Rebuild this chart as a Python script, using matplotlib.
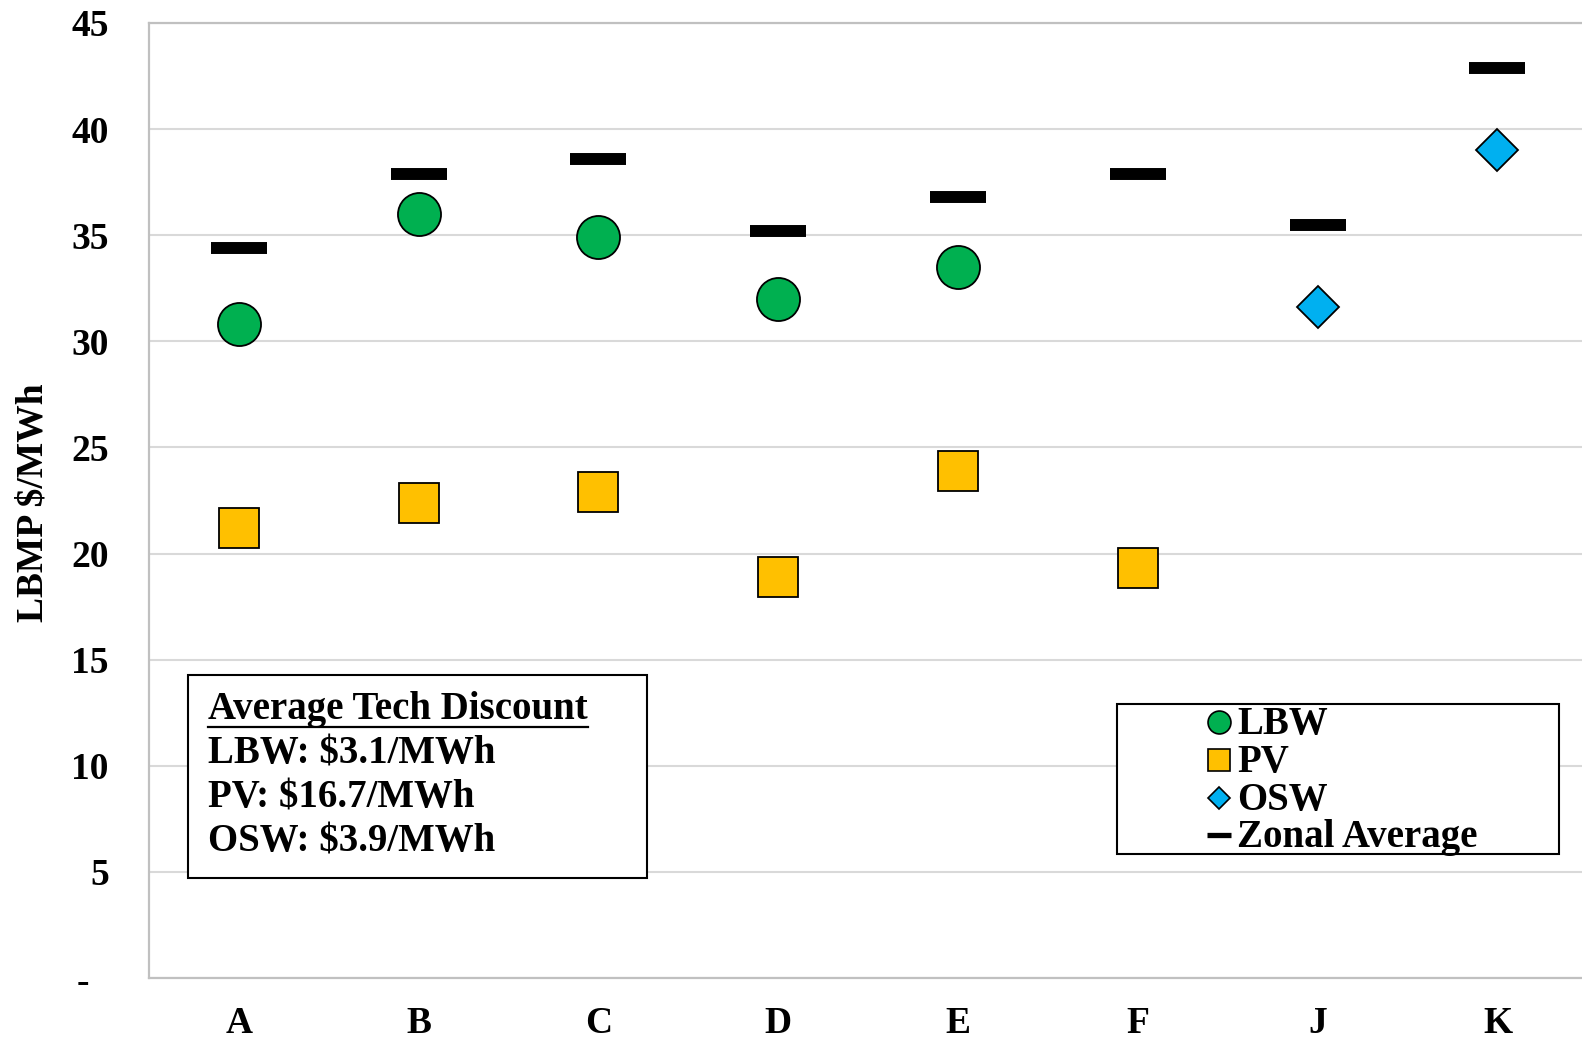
import numpy as np
import matplotlib
matplotlib.use("Agg")
import matplotlib.pyplot as plt
from matplotlib.lines import Line2D
from matplotlib.patches import Rectangle

zones = ["A", "B", "C", "D", "E", "F", "J", "K"]
lbw = [30.8, 36.0, 34.9, 32.0, 33.5, np.nan, np.nan, np.nan]
pv = [21.2, 22.4, 22.9, 18.9, 23.9, 19.3, np.nan, np.nan]
osw = [np.nan, np.nan, np.nan, np.nan, np.nan, np.nan, 31.6, 39.0]
zonal_avg = [34.4, 37.9, 38.6, 35.2, 36.8, 37.9, 35.5, 42.9]
yticks = [0, 5, 10, 15, 20, 25, 30, 35, 40, 45]
ytick_labels = ["-  ", "5", "10", "15", "20", "25", "30", "35", "40", "45"]
series_names = ["LBW", "PV", "OSW", "Zonal Average"]
discount_title = "Average Tech Discount"
discount_lines = ["LBW: $3.1/MWh", "PV: $16.7/MWh", "OSW: $3.9/MWh"]

plt.rcParams['font.family'] = ['Liberation Serif', 'DejaVu Serif']
plt.rcParams['font.weight'] = 'bold'

W, H = 1582, 1040
fig = plt.figure(figsize=(W/100, H/100), dpi=100)
ax = fig.add_axes([149/W, 1-978/H, 1-149/W, (978-23)/H])

def fx(px):
    return px / W

def fy(py):
    return 1 - py / H

x = np.arange(len(zones))
green, yellow, blue = "#00B050", "#FFC000", "#00B0F0"

ax.plot(x, zonal_avg, linestyle='none', marker='_', markersize=41, markeredgewidth=8.6,
        color='black', zorder=3)
ax.plot(x, lbw, linestyle='none', marker='o', markersize=31, markerfacecolor=green,
        markeredgecolor='black', markeredgewidth=1.3, zorder=4)
ax.plot(x, pv, linestyle='none', marker='s', markersize=28.5, markerfacecolor=yellow,
        markeredgecolor='black', markeredgewidth=1.3, zorder=4)
ax.plot(x, osw, linestyle='none', marker='D', markersize=21, markerfacecolor=blue,
        markeredgecolor='black', markeredgewidth=1.3, zorder=4)

ax.set_xlim(-0.5, 7.47)
ax.set_ylim(0, 45)
ax.set_yticks(yticks)
ax.set_yticklabels(ytick_labels)
ax.set_xticks(x)
ax.set_xticklabels(zones)
ax.tick_params(axis='y', length=0, pad=29, labelsize=27)
ax.tick_params(axis='x', length=0, pad=20, labelsize=27)
for lab in ax.get_xticklabels() + ax.get_yticklabels():
    lab.set_fontweight('bold')

ax.grid(axis='y', color='#d9d9d9', linewidth=1.5, zorder=0)
ax.set_axisbelow(True)
for s in ['left', 'bottom', 'top']:
    ax.spines[s].set_color('#c0c0c0')
    ax.spines[s].set_linewidth(1.6)
ax.spines['right'].set_visible(False)

fig.text(fx(33), fy(503), "LBMP $/MWh", rotation=90, ha='center', va='center',
         fontsize=27, fontweight='bold')

# legend (drawn manually for exact layout)
fig.patches.append(Rectangle((fx(1117), fy(854)), fx(1559) - fx(1117), fy(704) - fy(854),
                             transform=fig.transFigure, facecolor='white',
                             edgecolor='black', linewidth=1.5, zorder=5))
leg_styles = [
    dict(marker='o', markersize=16.5, markerfacecolor=green, markeredgecolor='black',
         markeredgewidth=1.2),
    dict(marker='s', markersize=15.5, markerfacecolor=yellow, markeredgecolor='black',
         markeredgewidth=1.2),
    dict(marker='D', markersize=10.7, markerfacecolor=blue, markeredgecolor='black',
         markeredgewidth=1.2),
    dict(marker='_', markersize=17.5, markeredgewidth=3.8, color='black'),
]
leg_rows = [722, 760, 798, 835]
for name, st, ry in zip(series_names, leg_styles, leg_rows):
    fig.add_artist(Line2D([fx(1219)], [fy(ry)], linestyle='none',
                          transform=fig.transFigure, zorder=6, **st))
    fig.text(fx(1237), fy(ry + 12), name, ha='left', va='baseline', fontsize=28,
             fontweight='bold', zorder=6)

# text box
fig.patches.append(Rectangle((fx(188), fy(878)), fx(647) - fx(188), fy(675) - fy(878),
                             transform=fig.transFigure, facecolor='white',
                             edgecolor='black', linewidth=1.5, zorder=5))
tx = fx(208)
title_t = fig.text(tx, fy(719), discount_title, ha='left', va='baseline',
                   fontsize=28, fontweight='bold', zorder=6)
for yy, line in zip([764, 808, 851], discount_lines):
    fig.text(tx, fy(yy), line, ha='left', va='baseline', fontsize=28,
             fontweight='bold', zorder=6)

fig.canvas.draw()
r = fig.canvas.get_renderer()
bb = title_t.get_window_extent(r).transformed(fig.transFigure.inverted())
fig.add_artist(Line2D([bb.x0, bb.x1], [fy(727), fy(727)], color='black',
                      linewidth=1.6, transform=fig.transFigure, zorder=6))

fig.savefig("out.png", dpi=100)
